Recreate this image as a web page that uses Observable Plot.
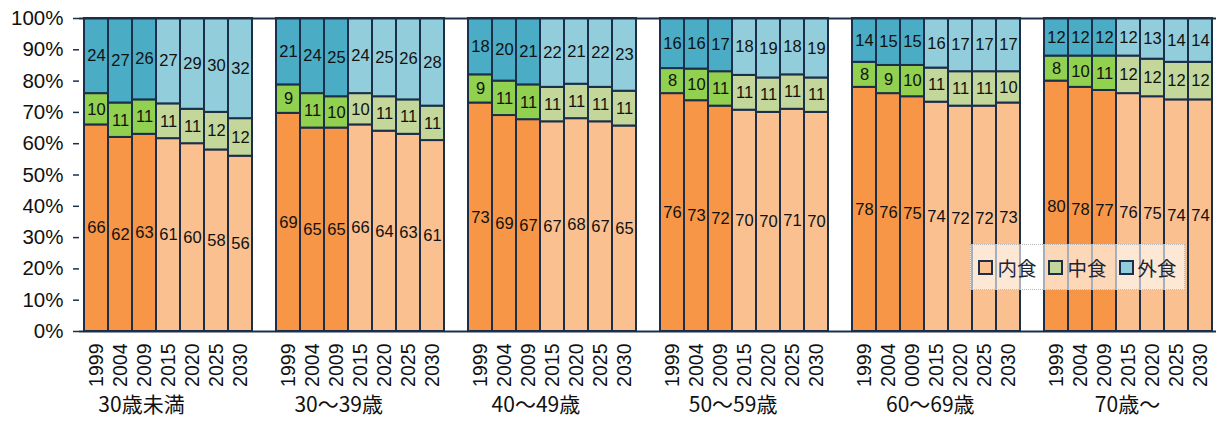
<!DOCTYPE html>
<html>
<head>
<meta charset="utf-8">
<script src="https://cdn.jsdelivr.net/npm/d3@7"></script>
<script src="https://cdn.jsdelivr.net/npm/@observablehq/plot@0.6"></script>
<style>
  html, body { margin: 0; padding: 0; background: #fff; }
  #wrap { position: relative; width: 1218px; height: 421px; font-family: Arial, "Liberation Sans", "Noto Sans CJK JP", sans-serif; }
  #legend {
    position: absolute; left: 970px; top: 244px; width: 215px; height: 46px;
    background: rgba(255,255,255,0.62); border: 1px dotted #b8b8b8; box-sizing: border-box;
    display: flex; align-items: center; justify-content: center; gap: 12px;
    font-family: "Noto Sans CJK JP", sans-serif; font-size: 19.5px; color: #1c2636;
  }
  #legend .item { display: flex; align-items: center; gap: 4px; }
  #legend .sw { width: 11px; height: 11px; border: 2px solid #1b2f4a; }
  svg text { font-family: Arial, "Liberation Sans", "Noto Sans CJK JP", sans-serif; }
  svg text.group, svg .group text { font-family: "Noto Sans CJK JP", sans-serif; }
</style>
</head>
<body>
<div id="wrap"><div id="legend"></div></div>
<script>
// Age groups and survey / projection years
const groups = ["30歳未満", "30〜39歳", "40〜49歳", "50〜59歳", "60〜69歳", "70歳〜"];
const years = ["1999", "2004", "2009", "2015", "2020", "2025", "2030"];
// Year labels printed under each group's bars
const yearLabels = [
  ["1999", "2004", "2009", "2015", "2020", "2025", "2030"],
  ["1999", "2004", "2009", "2015", "2020", "2025", "2030"],
  ["1999", "2004", "2009", "2015", "2020", "2025", "2030"],
  ["1999", "2004", "2009", "2015", "2020", "2025", "2030"],
  ["1999", "2004", "0009", "2015", "2020", "2025", "2030"],
  ["1999", "2004", "2009", "2015", "2020", "2025", "2030"]
];
const categories = ["内食", "中食", "外食"];

// Shares (%) per group, one row per age group, one column per year
const uchishoku = [
  [66, 62, 63, 61, 60, 58, 56],
  [69, 65, 65, 66, 64, 63, 61],
  [73, 69, 67, 67, 68, 67, 65],
  [76, 73, 72, 70, 70, 71, 70],
  [78, 76, 75, 74, 72, 72, 73],
  [80, 78, 77, 76, 75, 74, 74]
];
const nakashoku = [
  [10, 11, 11, 11, 11, 12, 12],
  [9, 11, 10, 10, 11, 11, 11],
  [9, 11, 11, 11, 11, 11, 11],
  [8, 10, 11, 11, 11, 11, 11],
  [8, 9, 10, 11, 11, 11, 10],
  [8, 10, 11, 12, 12, 12, 12]
];
const gaishoku = [
  [24, 27, 26, 27, 29, 30, 32],
  [21, 24, 25, 24, 25, 26, 28],
  [18, 20, 21, 22, 21, 22, 23],
  [16, 16, 17, 18, 19, 18, 19],
  [14, 15, 15, 16, 17, 17, 17],
  [12, 12, 12, 12, 13, 14, 14]
];
const series = [uchishoku, nakashoku, gaishoku];

// Colours: darker shade for observed years, lighter shade for projections
const darkColors = {"内食": "#f79646", "中食": "#92d050", "外食": "#4bacc6"};
const lightColors = {"内食": "#fac090", "中食": "#c4d79b", "外食": "#92cddc"};
const edge = "#1b2f4a";

// Band slots: seven bars per group with an empty slot between groups
const key = (g, i) => `${g}|${i}`;
const slots = [];
groups.forEach((g, gi) => {
  if (gi > 0) slots.push(`gap${gi}`);
  years.forEach((y, i) => slots.push(key(gi, i)));
});
const barKeys = slots.filter(s => !s.startsWith("gap"));
const tickText = new Map();
groups.forEach((g, gi) => yearLabels[gi].forEach((t, i) => tickText.set(key(gi, i), t)));

const rows = [];
groups.forEach((g, gi) => {
  years.forEach((y, i) => {
    categories.forEach((c, ci) => {
      rows.push({slot: key(gi, i), group: g, year: y, observed: i < 3, cat: c, value: series[ci][gi][i]});
    });
  });
});

const stackOpts = {x: "slot", y: "value", z: "cat", order: categories, offset: "normalize"};

const chart = Plot.plot({
  width: 1218,
  height: 421,
  marginLeft: 79,
  marginRight: 2,
  marginTop: 18,
  marginBottom: 90,
  style: {background: "transparent"},
  x: {type: "band", domain: slots, padding: 0},
  y: {domain: [0, 1]},
  marks: [
    Plot.barY(rows, Plot.stackY({
      ...stackOpts,
      fill: d => (d.observed ? darkColors : lightColors)[d.cat],
      stroke: edge,
      strokeWidth: 2,
      insetLeft: 0,
      insetRight: 0
    })),
    Plot.text(rows, Plot.stackY({
      ...stackOpts,
      text: d => String(d.value),
      fill: "#111",
      fontSize: 16.5
    })),
    Plot.ruleY([0, 1], {stroke: edge, strokeWidth: 2}),
    Plot.axisY({
      ticks: d3.range(0, 1.0001, 0.1),
      tickFormat: d3.format(".0%"),
      tickSize: 6,
      tickPadding: 10,
      stroke: edge,
      strokeWidth: 1.5,
      fontSize: 20.5,
      fill: "#111",
      label: null
    }),
    Plot.axisX({
      ticks: barKeys,
      tickFormat: k => tickText.get(k),
      tickSize: 0,
      tickPadding: 12,
      tickRotate: -90,
      fontSize: 19.5,
      fill: "#111",
      label: null
    }),
    // Group names, spaced slightly wider than the groups themselves
    ...groups.map((g, gi) => Plot.text([g], {
      x: () => key(gi, 3),
      text: d => d,
      frameAnchor: "bottom",
      dy: 80,
      dx: -27 + 5.2 * gi,
      fontSize: 21,
      fill: "#111",
      className: "group"
    }))
  ]
});

document.getElementById("wrap").prepend(chart);
chart.style.position = "absolute";
chart.style.left = "0";
chart.style.top = "0";

// Legend inside the plot area
const legend = document.getElementById("legend");
categories.forEach(c => {
  const item = document.createElement("span");
  item.className = "item";
  const sw = document.createElement("span");
  sw.className = "sw";
  sw.style.background = lightColors[c];
  const label = document.createElement("span");
  label.textContent = c;
  item.append(sw, label);
  legend.append(item);
});
</script>
</body>
</html>
